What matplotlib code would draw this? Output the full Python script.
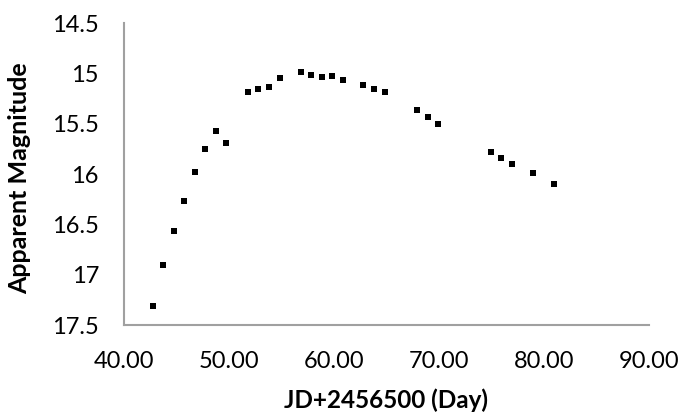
import matplotlib
matplotlib.use("Agg")
import matplotlib.pyplot as plt

jd = [42.73, 43.69, 44.76, 45.71, 46.76, 47.71, 48.73, 49.69, 51.78, 52.76,
      53.81, 54.86, 56.86, 57.81, 58.83, 59.78, 60.86, 62.76, 63.81, 64.86,
      67.88, 68.92, 69.90, 74.92, 75.90, 76.92, 78.92, 80.92]
mag = [17.31, 16.90, 16.57, 16.27, 15.98, 15.75, 15.57, 15.69, 15.19, 15.16,
       15.14, 15.05, 14.99, 15.02, 15.04, 15.03, 15.07, 15.12, 15.16, 15.19,
       15.36, 15.43, 15.50, 15.78, 15.84, 15.90, 15.99, 16.10]
xticks = [40, 50, 60, 70, 80, 90]
yticks = [14.5, 15, 15.5, 16, 16.5, 17, 17.5]
ytick_labels = ["14.5", "15", "15.5", "16", "16.5", "17", "17.5"]

plt.rcParams['font.family'] = ['Lato', 'DejaVu Sans']
fig = plt.figure(figsize=(6.84, 4.15), dpi=100)
ax = fig.add_axes([124/684, (415-325)/415, (649-124)/684, (325-23)/415])
ax.scatter(jd, mag, marker='s', s=22, color='black', linewidths=0)
ax.set_xlim(40, 90)
ax.set_ylim(17.5, 14.5)
ax.set_xticks(xticks)
ax.set_xticklabels([f"{v:.2f}" for v in xticks])
ax.set_yticks(yticks)
ax.set_yticklabels(ytick_labels)
for s in ['top', 'right']:
    ax.spines[s].set_visible(False)
for s in ['left', 'bottom']:
    ax.spines[s].set_color('#a0a0a0')
    ax.spines[s].set_linewidth(1.5)
ax.tick_params(axis='both', length=0, labelsize=17, colors='black')
ax.tick_params(axis='y', pad=18)
ax.tick_params(axis='x', pad=19)
ax.set_xlabel("JD+2456500 (Day)", fontsize=17.5, fontweight='bold')
ax.set_ylabel("Apparent Magnitude", fontsize=18, fontweight='bold')
ax.xaxis.label.set_verticalalignment('center')
ax.xaxis.set_label_coords(386/684, 1 - 400/415, transform=fig.transFigure)
ax.yaxis.set_label_coords(20/684, 1 - 178/415, transform=fig.transFigure)
ax.yaxis.label.set_verticalalignment('center')
fig.savefig("out.png", dpi=100)
